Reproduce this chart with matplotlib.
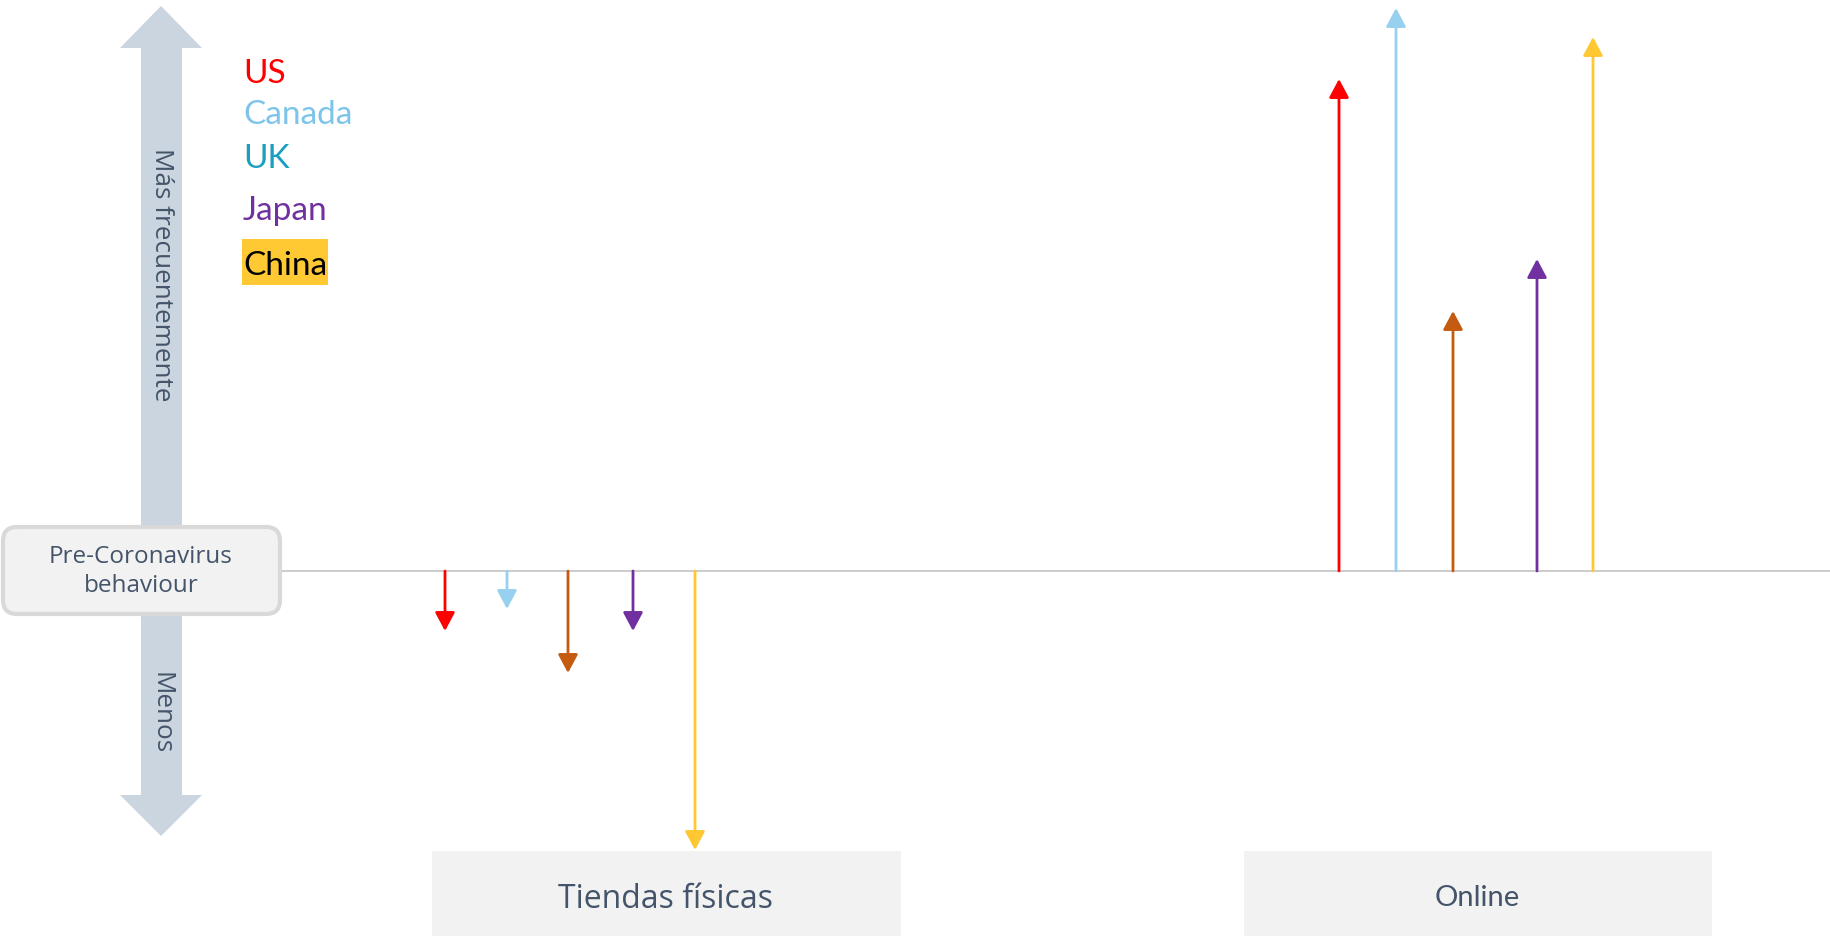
import matplotlib.pyplot as plt
from matplotlib.patches import Polygon, Rectangle, FancyBboxPatch

countries = ["US", "Canada", "UK", "Japan", "China"]
label_colors = ["#ff0000", "#7cc4ea", "#1a9fbf", "#7030a0", "#000000"]
arrow_colors = ["#ff0000", "#97d1ef", "#c55a11", "#7030a0", "#ffc832"]

# cambio de frecuencia frente al comportamiento previo
tiendas = [-6.0, -3.8, -10.2, -6.0, -27.9]
online = [49.2, 56.3, 26.0, 31.2, 53.4]

channels = ["Tiendas físicas", "Online"]

# posiciones horizontales (pixeles) de cada flecha
tiendas_x = [445, 507, 568, 633, 695]
online_x = [1339, 1396, 1453, 1537, 1593]

W, H = 1830, 936
BASE = 571  # altura de la linea base, pixeles desde arriba
TXT = "#44546a"
SANS = ["Open Sans", "DejaVu Sans"]
CAL = ["Lato", "DejaVu Sans"]

fig = plt.figure(figsize=(W / 100, H / 100), dpi=100)

# capa de fondo en pixeles (y hacia abajo)
bg = fig.add_axes([0, 0, 1, 1])
bg.set_xlim(0, W)
bg.set_ylim(H, 0)
bg.axis("off")

# flecha grande vertical
grey = "#cbd5df"
bg.add_patch(Rectangle((141, 47), 41, 749, fc=grey, ec="none"))
bg.add_patch(Polygon([(120, 48), (202, 48), (161, 6)], fc=grey, ec="none"))
bg.add_patch(Polygon([(120, 795), (202, 795), (161, 836)], fc=grey, ec="none"))
bg.text(161, 275, "Más frecuentemente", rotation=-90, ha="center", va="center",
        fontsize=18.8, color=TXT, family=SANS)
bg.text(161, 713, "Menos", rotation=-90, ha="center", va="center",
        fontsize=18.8, color=TXT, family=SANS)

# caja del comportamiento previo
bg.add_patch(FancyBboxPatch((3, 527), 277, 87, boxstyle="round,pad=0,rounding_size=14",
                            fc="#f2f2f2", ec="#d9d9d9", lw=3, zorder=3))
bg.text(141, 563, "Pre-Coronavirus", ha="center", va="baseline", fontsize=17.5,
        color=TXT, family=SANS, zorder=4)
bg.text(141, 592, "behaviour", ha="center", va="baseline", fontsize=17.5,
        color=TXT, family=SANS, zorder=4)

# leyenda de paises
bg.add_patch(Rectangle((242, 239), 86, 46, fc="#ffc933", ec="none"))
baselines = [83, 124, 168, 220, 275]
for name, col, yb in zip(countries, label_colors, baselines):
    bg.text(243, yb, name, ha="left", va="baseline", fontsize=24, color=col, family=CAL)

# etiquetas de canal
bg.add_patch(Rectangle((432, 851), 469, 85, fc="#f2f2f2", ec="none"))
bg.add_patch(Rectangle((1244, 851), 468, 85, fc="#f2f2f2", ec="none"))
bg.text(666, 908, channels[0], ha="center", va="baseline", fontsize=23,
        color=TXT, family=SANS)
bg.text(1477, 906, channels[1], ha="center", va="baseline", fontsize=21,
        color=TXT, family=CAL)

# capa de datos: 1 unidad = 10 px, 0 en la linea base
ax = fig.add_axes([0, 0, 1, 1])
ax.patch.set_alpha(0)
ax.set_xlim(0, W)
ax.set_ylim(-(H - BASE) / 10, BASE / 10)
ax.axis("off")
ax.plot([283, W], [0, 0], color="#cccccc", lw=1.4, zorder=1)

for xs, vals in [(tiendas_x, tiendas), (online_x, online)]:
    for x, v, c in zip(xs, vals, arrow_colors):
        ax.annotate("", xy=(x, v), xytext=(x, 0),
                    arrowprops=dict(arrowstyle="-|>,head_length=0.75,head_width=0.4",
                                    color=c, lw=2, mutation_scale=15,
                                    shrinkA=0, shrinkB=0), zorder=2)

fig.savefig("out.png", dpi=100)
